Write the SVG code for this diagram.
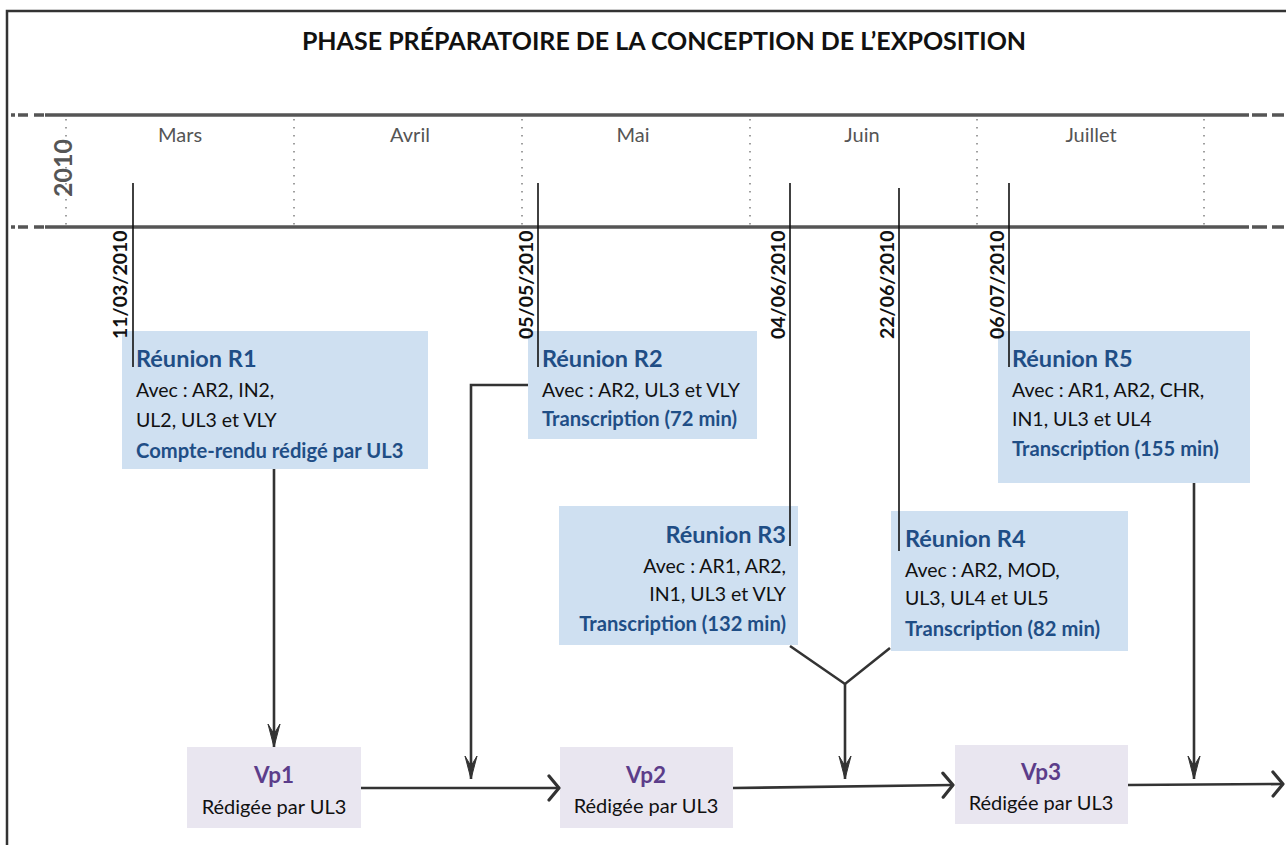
<svg xmlns="http://www.w3.org/2000/svg" width="1286" height="845" viewBox="0 0 1286 845">
<defs>
<style>
text{font-family:Lato,"Liberation Sans",sans-serif}
.title{font-size:25px;font-weight:bold;fill:#111}
.month{font-size:20px;fill:#555}
.year{font-size:25px;font-weight:bold;fill:#555}
.date{font-size:19.5px;font-weight:bold;fill:#111}
.box{fill:#cfe0f1}
.vbox{fill:#e9e6f0}
.h{font-size:23.5px;font-weight:bold;fill:#1f4e86}
.b{font-size:19.5px;fill:#111}
.t{font-size:20.2px;font-weight:bold;fill:#1f4e86}
.vh{font-size:22.5px;font-weight:bold;fill:#5c3d8a;text-anchor:middle}
.vb{font-size:20px;fill:#111;text-anchor:middle}
.tl{stroke:#555;stroke-width:3.5;fill:none}
.dot{stroke:#888;stroke-width:1.6;stroke-dasharray:1.6 6.4;fill:none}
.dl{stroke:#111;stroke-width:1.6;fill:none}
.c{stroke:#333;stroke-width:2.6;fill:none}
</style>
<marker id="down" viewBox="-24 -8 25 16" refX="0" refY="0" markerWidth="25" markerHeight="16" markerUnits="userSpaceOnUse" orient="auto">
<path d="M-23,-6 L0,0 L-23,6 L-13,0 Z" fill="#333" stroke="#333" stroke-width="1" stroke-linejoin="round"/>
</marker>
<marker id="chev" viewBox="-14 -14 16 28" refX="0" refY="0" markerWidth="16" markerHeight="28" markerUnits="userSpaceOnUse" orient="auto">
<path d="M-10,-12 L0,0 L-10,12" fill="none" stroke="#333" stroke-width="3.2" stroke-linecap="round" stroke-linejoin="round"/>
</marker>
</defs>
<rect width="1286" height="845" fill="#fff"/>
<path d="M7,850 V11 H1290" fill="none" stroke="#333" stroke-width="2.5"/>
<text class="title" x="664" y="50" text-anchor="middle">PHASE PRÉPARATOIRE DE LA CONCEPTION DE L’EXPOSITION</text>

<g id="timeline">
<path class="tl" d="M45,115 H1249 M45,227 H1249"/>
<path class="tl" d="M11,115 H15 M18,115 H28 M34,115 H44 M11,227 H15 M18,227 H28 M34,227 H44"/>
<path class="tl" d="M1252,115 H1267 M1272,115 H1284 M1252,227 H1267 M1272,227 H1284"/>
<path class="dot" d="M66,119 V231 M294,119 V231 M522,119 V231 M750,119 V231 M977,119 V231 M1204,119 V231"/>
<text class="month" x="180" y="142" text-anchor="middle">Mars</text>
<text class="month" x="410" y="142" text-anchor="middle">Avril</text>
<text class="month" x="633" y="142" text-anchor="middle">Mai</text>
<text class="month" x="862" y="142" text-anchor="middle">Juin</text>
<text class="month" x="1091" y="142" text-anchor="middle">Juillet</text>
<text class="year" transform="translate(72,168) rotate(-90)" text-anchor="middle">2010</text>
</g>

<g id="R1">
<rect class="box" x="122" y="331" width="306" height="138"/>
<path class="dl" d="M133,183 V367"/>
<text class="date" transform="translate(127,339) rotate(-90)">11/03/2010</text>
<text class="h" x="136" y="367">Réunion R1</text>
<text class="b" x="136" y="397">Avec : AR2, IN2,</text>
<text class="b" x="136" y="427">UL2, UL3 et VLY</text>
<text class="t" x="136" y="458">Compte-rendu rédigé par UL3</text>
</g>

<g id="R2">
<rect class="box" x="528" y="331" width="229" height="108"/>
<path class="dl" d="M538,183 V367"/>
<text class="date" transform="translate(533,339) rotate(-90)">05/05/2010</text>
<text class="h" x="542" y="367">Réunion R2</text>
<text class="b" x="542" y="397">Avec : AR2, UL3 et VLY</text>
<text class="t" x="542" y="426">Transcription (72 min)</text>
</g>

<g id="R3">
<rect class="box" x="559" y="506" width="239" height="139"/>
<path class="dl" d="M790,183 V546"/>
<text class="date" transform="translate(785,339) rotate(-90)">04/06/2010</text>
<text class="h" x="786" y="543" text-anchor="end">Réunion R3</text>
<text class="b" x="786" y="573" text-anchor="end">Avec : AR1, AR2,</text>
<text class="b" x="786" y="601" text-anchor="end">IN1, UL3 et VLY</text>
<text class="t" x="786" y="631" text-anchor="end">Transcription (132 min)</text>
</g>

<g id="R4">
<rect class="box" x="891" y="511" width="237" height="140"/>
<path class="dl" d="M899,188 V551"/>
<text class="date" transform="translate(894,339) rotate(-90)">22/06/2010</text>
<text class="h" x="905" y="547">Réunion R4</text>
<text class="b" x="905" y="577">Avec : AR2, MOD,</text>
<text class="b" x="905" y="605">UL3, UL4 et UL5</text>
<text class="t" x="905" y="636">Transcription (82 min)</text>
</g>

<g id="R5">
<rect class="box" x="998" y="331" width="252" height="152"/>
<path class="dl" d="M1009,183 V367"/>
<text class="date" transform="translate(1004,339) rotate(-90)">06/07/2010</text>
<text class="h" x="1012" y="367">Réunion R5</text>
<text class="b" x="1012" y="397">Avec : AR1, AR2, CHR,</text>
<text class="b" x="1012" y="426">IN1, UL3 et UL4</text>
<text class="t" x="1012" y="456">Transcription (155 min)</text>
</g>

<g id="Vp1">
<rect class="vbox" x="187" y="747" width="174" height="81"/>
<text class="vh" x="274" y="783">Vp1</text>
<text class="vb" x="274" y="814">Rédigée par UL3</text>
</g>
<g id="Vp2">
<rect class="vbox" x="560" y="747" width="173" height="81"/>
<text class="vh" x="646" y="783">Vp2</text>
<text class="vb" x="646" y="813">Rédigée par UL3</text>
</g>
<g id="Vp3">
<rect class="vbox" x="955" y="745" width="173" height="79"/>
<text class="vh" x="1041" y="780">Vp3</text>
<text class="vb" x="1041" y="810">Rédigée par UL3</text>
</g>

<g id="connectors">
<path class="c" d="M274,469 V747" marker-end="url(#down)"/>
<path class="c" d="M528,385 H471 V779" marker-end="url(#down)"/>
<path class="c" d="M790,646 L845,684 L890,648"/>
<path class="c" d="M845,684 V779" marker-end="url(#down)"/>
<path class="c" d="M1194,483 V779" marker-end="url(#down)"/>
<path class="c" d="M361,788 H559" marker-end="url(#chev)"/>
<path class="c" d="M733,788 L953,785" marker-end="url(#chev)"/>
<path class="c" d="M1128,785 L1283,784" marker-end="url(#chev)"/>
</g>
</svg>
